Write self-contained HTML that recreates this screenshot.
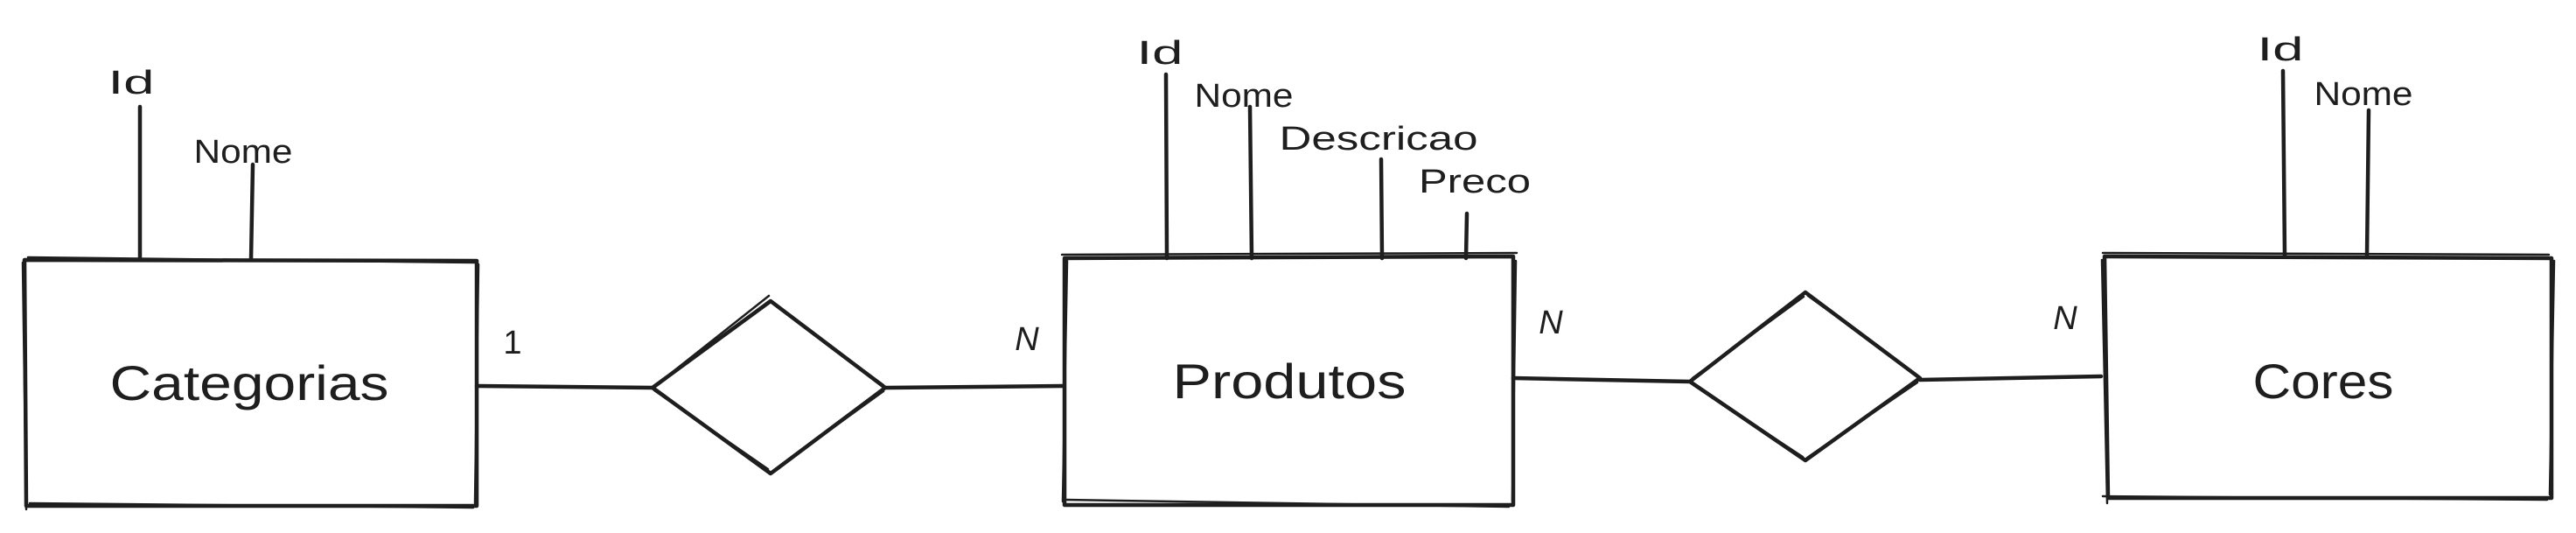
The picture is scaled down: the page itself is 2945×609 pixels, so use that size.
<!DOCTYPE html>
<html><head><meta charset="utf-8"><style>
html,body{margin:0;padding:0;background:#fff;}
svg{display:block}
text{font-family:"Liberation Sans",sans-serif;fill:#1e1e1e;}
</style></head><body>
<svg width="2945" height="609" viewBox="0 0 2945 609" xmlns="http://www.w3.org/2000/svg">
<g fill="none" stroke="#1e1e1e" stroke-width="4.5" stroke-linecap="round" stroke-linejoin="round">
<path d="M28 297 L545 298 L545 578 L30 578 Z"/>
<path d="M32 294 L543 300 M26 300 L30 582 M547 302 L543 575 M34 575 L541 580" stroke-width="2.5"/>
<path d="M160 122 L160 297 M289 188 L287 297"/>
<path d="M1217 295 L1730 293 L1730 577 L1217 577 Z"/>
<path d="M1214 291 L1734 289 M1220 298 L1215 573 M1733 298 L1729 572 M1218 571 L1725 579" stroke-width="2.5"/>
<path d="M1333 85 L1334 295 M1429 122 L1431 295 M1579 182 L1580 295 M1677 244 L1676 295"/>
<path d="M2406 293 L2917 295 L2917 569 L2410 569 Z"/>
<path d="M2404 289 L2914 291 M2403 297 L2409 575 M2920 298 L2915 565 M2404 567 L2912 571" stroke-width="2.5"/>
<path d="M2610 81 L2612 293 M2708 126 L2706 293"/>
<path d="M545 441 L746 443 M1012 443 L1215 441 M1730 432 L1932 436 M2195 434 L2402 430"/>
<path d="M746 443 L881 344 L1012 443 L881 541 Z"/>
<path d="M750 440 L879 338 M885 348 L1010 440 M1010 447 L884 538 M748 446 L878 536" stroke-width="2.5"/>
<path d="M1932 436 L2064 334 L2195 432 L2064 526 Z"/>
<path d="M1935 432 L2062 339 M2067 338 L2191 428 M2192 437 L2066 523 M1936 440 L2061 522" stroke-width="2.5"/>
</g>
<g font-size="56">
<text x="285" y="457" text-anchor="middle" textLength="319" lengthAdjust="spacingAndGlyphs">Categorias</text>
<text x="1474" y="455" text-anchor="middle" textLength="267" lengthAdjust="spacingAndGlyphs">Produtos</text>
<text x="2656" y="455" text-anchor="middle" textLength="161" lengthAdjust="spacingAndGlyphs">Cores</text>
</g>
<g font-size="38">
<text x="150" y="107" text-anchor="middle" textLength="53" lengthAdjust="spacingAndGlyphs">Id</text>
<text x="278" y="186" text-anchor="middle" textLength="113" lengthAdjust="spacingAndGlyphs">Nome</text>
<text x="1326" y="73" text-anchor="middle" textLength="53" lengthAdjust="spacingAndGlyphs">Id</text>
<text x="1422" y="122" text-anchor="middle" textLength="113" lengthAdjust="spacingAndGlyphs">Nome</text>
<text x="1576" y="171" text-anchor="middle" textLength="227" lengthAdjust="spacingAndGlyphs">Descricao</text>
<text x="1686" y="220" text-anchor="middle" textLength="128" lengthAdjust="spacingAndGlyphs">Preco</text>
<text x="2607" y="69" text-anchor="middle" textLength="53" lengthAdjust="spacingAndGlyphs">Id</text>
<text x="2702" y="120" text-anchor="middle" textLength="113" lengthAdjust="spacingAndGlyphs">Nome</text>
<text x="586" y="404" text-anchor="middle">1</text>
<text x="1174" y="400" text-anchor="middle" font-style="italic">N</text>
<text x="1773" y="381" text-anchor="middle" font-style="italic">N</text>
<text x="2361" y="376" text-anchor="middle" font-style="italic">N</text>
</g>
</svg>
</body></html>
